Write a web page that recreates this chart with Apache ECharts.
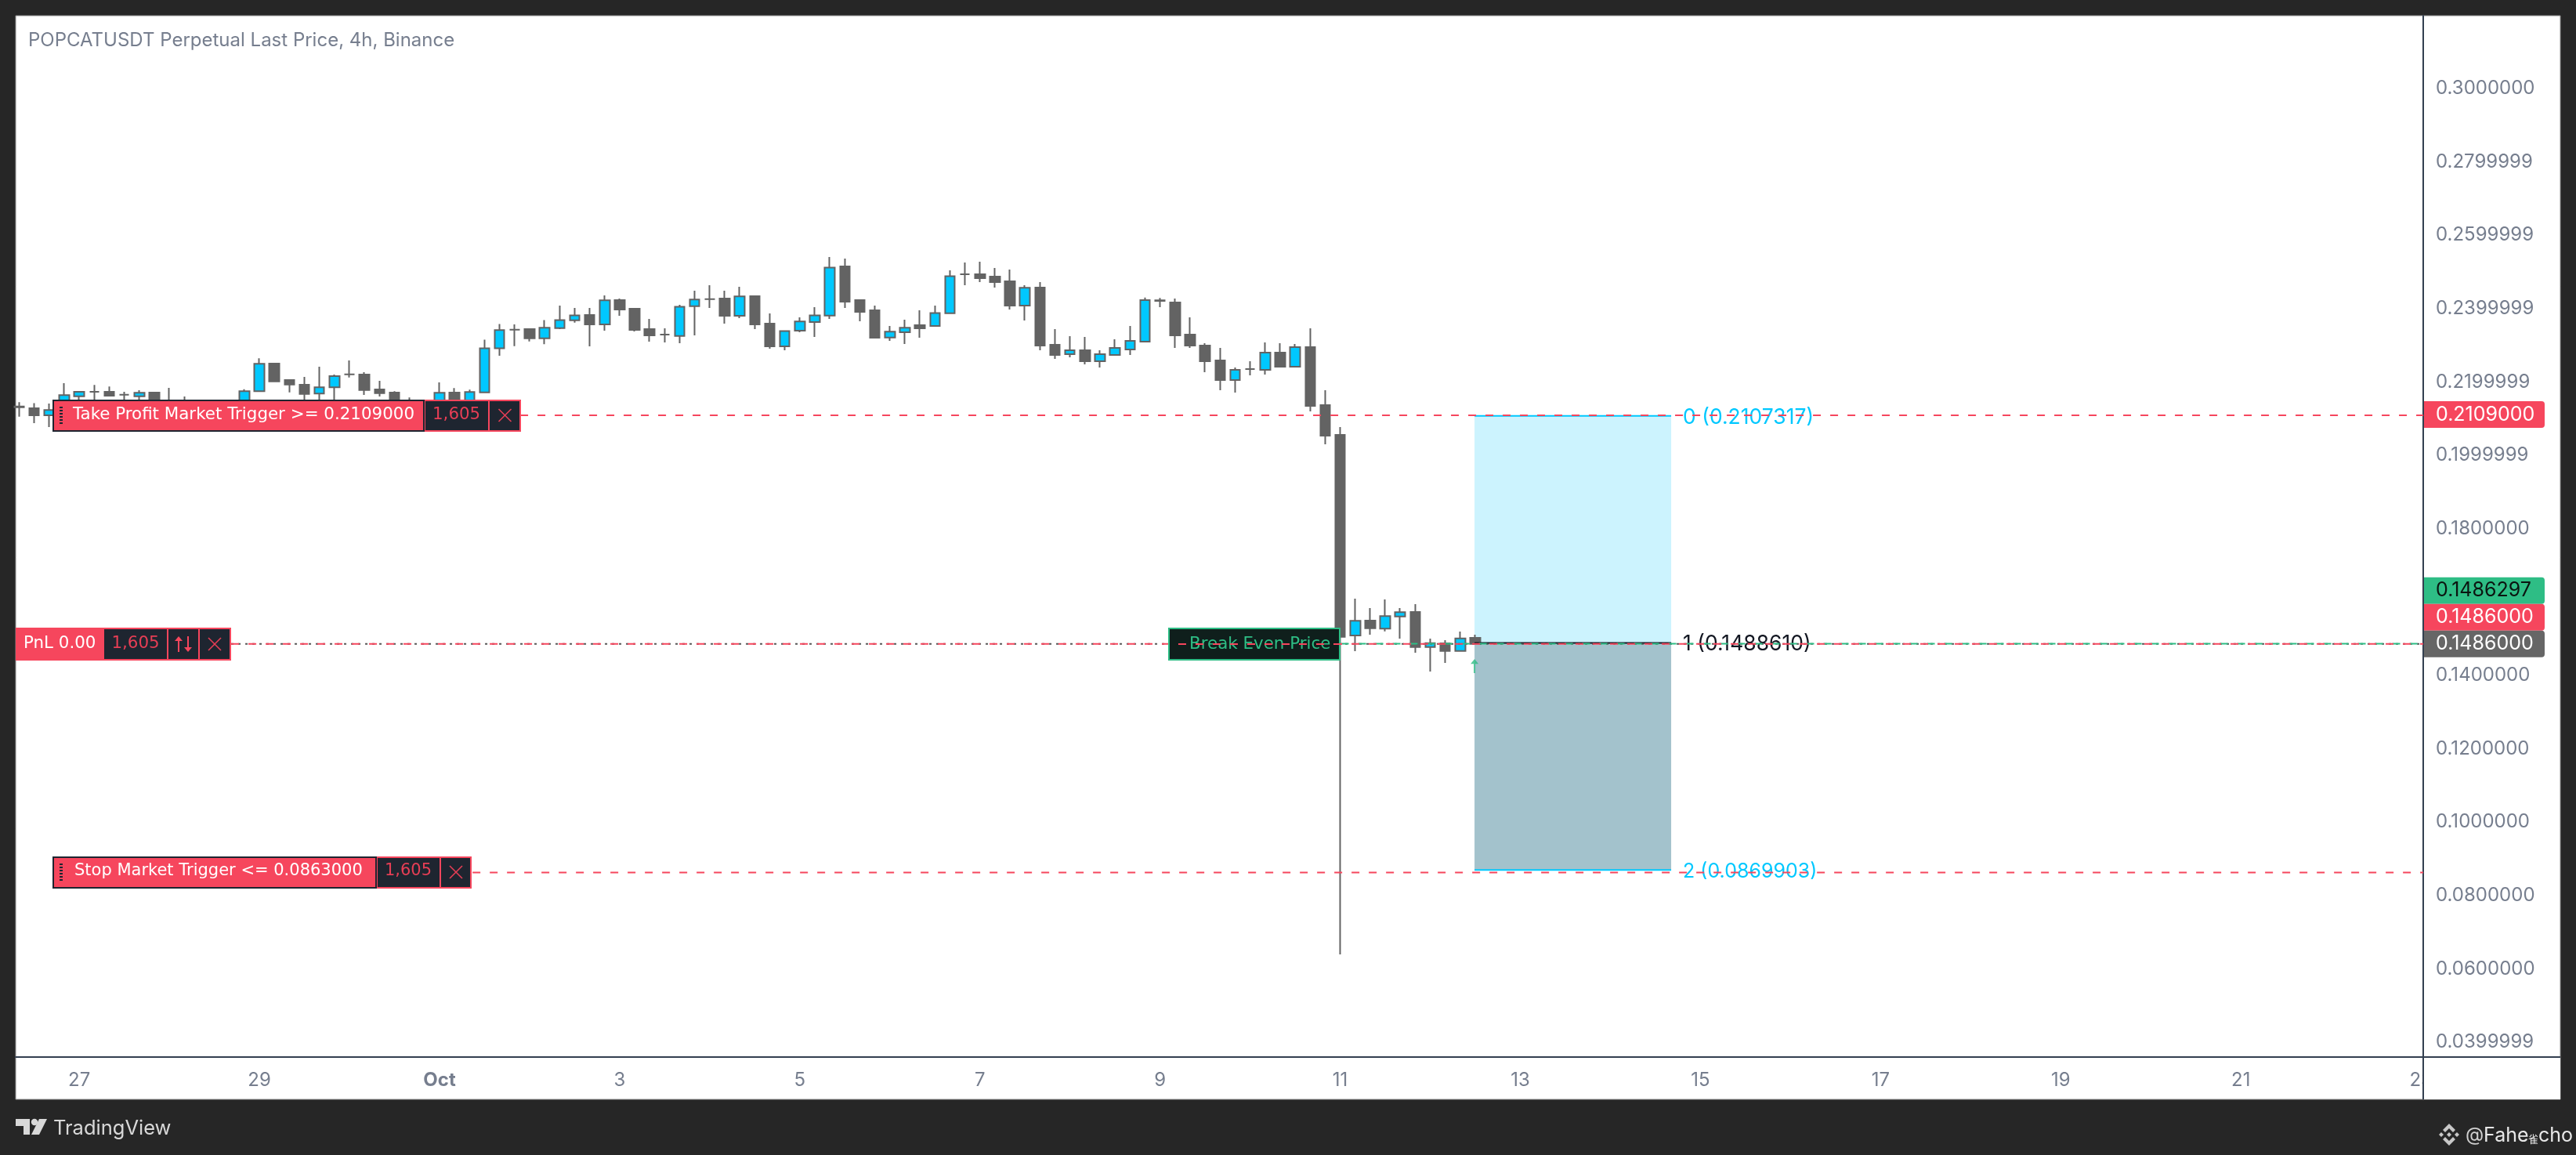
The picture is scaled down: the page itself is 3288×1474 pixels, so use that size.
<!DOCTYPE html>
<html><head><meta charset="utf-8">
<style>html,body{margin:0;padding:0;background:#262626}#c{width:3288px;height:1474px}</style>
<script src="https://cdn.jsdelivr.net/npm/echarts@6/dist/echarts.min.js"></script>
</head><body><div id="c"></div>
<script>
const firstCandle = -28; // candle offset (4h bars) from Oct 1 00:00
const opens = [
.21330,.21282,.21090,.21375,.21610,.21731,.21731,.21652,.21610,.21709,
.21446,.21446,.21380,.21350,.21400,.21375,.21745,.22499,.22051,.21923,
.21681,.21852,.22208,.22200,.21795,.21709,.21410,.21400,.21375,.21709,
.21375,.21716,.22919,.23425,.23439,.23190,.23468,.23681,.23824,.23567,
.24229,.23994,.23439,.23290,.23254,.24066,.24258,.24272,.23802,.24336,
.23589,.22969,.23396,.23631,.23809,.25148,.24229,.23952,.23211,.23354,
.23546,.23525,.23873,.24934,.24934,.24870,.24742,.24080,.24571,.23012,
.22756,.22863,.22564,.22735,.22884,.23098,.24210,.24166,.23290,.22991,
.22585,.22051,.22350,.22329,.22799,.22414,.22948,.21368,.20556,.15089,
.15494,.15274,.15608,.15729,.14775,.14875,.14668,.15024];
const closes = [
.21310,.21090,.21232,.21638,.21731,.21731,.21624,.21652,.21702,.21375,
.21339,.21339,.21340,.21400,.21360,.21745,.22492,.22015,.21930,.21674,
.21852,.22158,.22208,.21780,.21695,.21375,.21339,.21350,.21702,.21375,
.21724,.22919,.23411,.23425,.23190,.23475,.23688,.23816,.23567,.24222,
.23973,.23418,.23268,.23290,.24051,.24244,.24258,.23802,.24329,.23567,
.22969,.23389,.23646,.23816,.25119,.24187,.23909,.23204,.23368,.23475,
.23461,.23880,.24884,.24934,.24827,.24721,.24080,.24564,.22991,.22734,
.22863,.22563,.22756,.22927,.23119,.24230,.24225,.23269,.22991,.22564,
.22051,.22329,.22350,.22799,.22414,.22948,.21346,.20535,.15052,.15487,
.15288,.15615,.15722,.14775,.14882,.14668,.15010,.14861];
const lows = [
.21054,.20876,.20769,.21268,.21446,.21446,.21624,.21446,.21503,.21304,
.21232,.21161,.21232,.21200,.21220,.21304,.21745,.22015,.21716,.21375,
.21375,.21446,.22122,.21645,.21602,.21304,.21268,.21250,.21304,.21304,
.21304,.21695,.22713,.22976,.23105,.23026,.23439,.23617,.22969,.23396,
.23802,.23375,.23097,.23076,.23055,.23268,.24016,.23589,.23738,.23439,
.22905,.22863,.23354,.23226,.23717,.24016,.23653,.23183,.23119,.23033,
.23204,.23525,.23873,.24635,.24721,.24571,.23973,.23674,.22863,.22628,
.22670,.22478,.22393,.22735,.22735,.23098,.24040,.22927,.22927,.22265,
.21774,.21710,.22179,.22201,.22393,.22393,.21197,.20300,.06395,.14661,
.15110,.15202,.15003,.14619,.14106,.14341,.14668,.14861];
const highs = [
.21446,.21424,.21410,.21966,.21752,.21916,.21873,.21731,.21773,.21731,
.21837,.21602,.21481,.21430,.21450,.21802,.22642,.22514,.22072,.22136,
.22414,.22200,.22585,.22265,.22030,.21745,.21574,.21517,.21987,.21830,
.21788,.23154,.23581,.23567,.23439,.23688,.24080,.24016,.24016,.24358,
.24272,.24016,.23717,.23461,.24101,.24486,.24635,.24486,.24592,.24358,
.23866,.23389,.23760,.24037,.25404,.25361,.24229,.24080,.23525,.23695,
.23952,.24080,.25041,.25255,.25276,.25105,.25062,.24635,.24721,.23439,
.23247,.23226,.22863,.23162,.23525,.24300,.24290,.24272,.23760,.23055,
.22927,.22393,.22564,.23076,.23055,.23034,.23461,.21774,.20770,.16092,
.15836,.16071,.15836,.15943,.15003,.14960,.15195,.15110];

const xTickCandles = [-24,-12,0,12,24,36,48,60,72,84,96,108,120,132];
const xTickLabels = ['27','29','Oct','3','5','7','9','11','13','15','17','19','21','23'];
const yTickLabels = ['0.3000000','0.2799999','0.2599999','0.2399999','0.2199999','0.1999999','0.1800000','0.1400000','0.1200000','0.1000000','0.0800000','0.0600000','0.0399999'];

const takeProfit = 0.2109, breakEven = 0.1486, stopLoss = 0.0863, markPrice = 0.1486297;
const fibLevels = [0.2107317, 0.1488610, 0.0869903];
const fibNames = ['0 (0.2107317)', '1 (0.1488610)', '2 (0.0869903)'];
const fibColors = ['#00c8ff', '#131722', '#00c8ff'];
const fibFontSizes = [26.5, 26.5, 25];
const fibFrom = 68.95, fibTo = 82.05;
const xMin = -28.236, xMax = 132.15, yMin = 0.03598, yMax = 0.31983;
const tpLineFrom = 5.38, slLineFrom = 2.2, pnlLineFrom = -13.88, bePriceFrom = 60.05;
const entryArrow = [68.95, 0.14255];

const RED='#f6465d', GREEN='#2ebd85', GREY='#666666', DARK='#1e2530', CYAN='#00c8ff', AXIS='#333f50', TXT='#767e8e';
const UI = 'Inter, "Noto Sans", sans-serif', OF = '"DejaVu Sans", sans-serif';

const candleData = opens.map((o,i)=>[firstCandle+i,o,closes[i],lows[i],highs[i]]);
function hline(name,p,from,color,type,z,w){
  return {name,type:'line',data:[[from,p],[xMax,p]],showSymbol:false,silent:true,z,animation:false,clip:true,
    lineStyle:{color,width:w||2,type}};
}
const chart = echarts.init(document.getElementById('c'),null,{renderer:'canvas',width:3288,height:1474});
const option = {
  animation:false, backgroundColor:'#262626',
  title:{text:'POPCATUSDT Perpetual Last Price, 4h, Binance',left:36,top:40,padding:0,
    textStyle:{color:TXT,fontFamily:UI,fontSize:24,fontWeight:400}},
  grid:{left:20,top:20,right:195,bottom:125,containLabel:false},
  xAxis:{type:'value',min:xMin,max:xMax,splitLine:{show:false},axisTick:{show:false},
    axisLine:{show:true,onZero:false,lineStyle:{color:AXIS,width:2}},
    axisLabel:{customValues:xTickCandles,margin:18,color:TXT,fontFamily:UI,fontSize:24,hideOverlap:false,
      formatter:v=>{const s=xTickLabels[xTickCandles.indexOf(v)];return s==='Oct'?'{b|Oct}':s;},
      rich:{b:{fontWeight:700,color:TXT,fontFamily:UI,fontSize:24}}}},
  yAxis:{type:'value',position:'right',min:yMin,max:yMax,scale:true,splitLine:{show:false},axisTick:{show:false},
    axisLine:{show:true,onZero:false,lineStyle:{color:AXIS,width:2}},
    axisLabel:{customValues:yTickLabels.map(Number),margin:16,color:TXT,fontFamily:UI,fontSize:24,
      formatter:v=>v.toFixed(7)}},
  series:[
    {name:'Position',type:'line',data:[],z:1,silent:true,
      markArea:{silent:true,data:[
        [{xAxis:fibFrom,yAxis:fibLevels[0],itemStyle:{color:'#ccf3fe'}},{xAxis:fibTo,yAxis:fibLevels[1]}],
        [{xAxis:fibFrom,yAxis:fibLevels[1],itemStyle:{color:'#a3c2cc'}},{xAxis:fibTo,yAxis:fibLevels[2]}]
      ]}},
    {name:'POPCATUSDT',type:'candlestick',data:candleData,z:2,barWidth:13,silent:true,clip:true,
      encode:{x:0,y:[1,2,3,4]},
      itemStyle:{color:CYAN,color0:'#636363',borderColor:'#636363',borderColor0:'#636363',borderColorDoji:'#636363',borderWidth:2}},
    ...fibLevels.map((p,i)=>({name:'Fib '+i,type:'line',data:[[fibFrom,p],[fibTo,p]],showSymbol:false,z:3,silent:true,
      lineStyle:{color:fibColors[i],width:2},
      endLabel:{show:true,formatter:fibNames[i],color:fibColors[i],fontFamily:UI,fontSize:fibFontSizes[i],distance:15,offset:[0,2]}})),
    hline('Position dots',breakEven,pnlLineFrom,'#555555',[3,6],4),
    hline('Mark price',markPrice,bePriceFrom,GREEN,[10,12],5),
    hline('Take profit',takeProfit,tpLineFrom,RED,[10,12],6),
    hline('Break even',breakEven,pnlLineFrom,RED,[10,12],6),
    hline('Stop',stopLoss,slLineFrom,RED,[10,12],6),
    {name:'Entry',type:'scatter',data:[entryArrow],z:5,silent:true,symbolSize:[10,18],
      symbol:'path://M5 0 L10 7 L6 7 L6 20 L4 20 L4 7 L0 7 Z',itemStyle:{color:GREEN}}
  ]
};
chart.setOption(option);

const py = p => chart.convertToPixel({yAxisIndex:0},p);
const els = [];
const R=(x,y,w,h,fill,z,extra)=>els.push(Object.assign({type:'rect',z:z||50,silent:true,shape:{x,y,width:w,height:h},style:{fill}},extra||{}));
const B=(x,y,w,h,fill,stroke,z)=>els.push({type:'rect',z:z||50,silent:true,shape:{x:x+1,y:y+1,width:w-2,height:h-2},style:{fill,stroke,lineWidth:2}});
const T=(x,y,text,fill,font,align,z)=>els.push({type:'text',z:z||52,silent:true,x,y,style:{text,fill,font,align:align||'left',verticalAlign:'middle'}});
const L=(x1,y1,x2,y2,stroke,w,z)=>els.push({type:'line',z:z||52,silent:true,shape:{x1,y1,x2,y2},style:{stroke,lineWidth:w||2}});
const P=(pts,fill,z)=>els.push({type:'polygon',z:z||52,silent:true,shape:{points:pts},style:{fill}});

// page panel
R(20,20,3248,1383,'#ffffff',-10,{style:{fill:'#ffffff',stroke:'#8a8a8a',lineWidth:1}});
// price-axis & time-axis panes cover
R(3094,1350,174,53,'#ffffff',40);
L(3093,1349,3093,1403,AXIS,2,41);
L(3093,1349,3268,1349,AXIS,2,41);

function xMark(cx,cy,c){L(cx-8,cy-8,cx+8,cy+8,c,1.6);L(cx+8,cy-8,cx-8,cy+8,c,1.6);}
function dots(x,cy){for(let i=0;i<6;i++)R(x-2,cy-11+i*4,4,2,DARK,52);}
const OFONT='21.4px '+OF, SFONT='21px '+OF;
function order(price,x1,x2,x3,x4,tx,label,qc,font){
  const c=Math.round(py(price)), t=c-20, h=41;
  B(x2-1,t,x4-x2+1,h,DARK,RED);
  L(x3,t,x3,t+h,RED,2,51);
  B(x1,t,x2-x1,h,RED,DARK,51);
  dots(x1+11,c);
  T(tx,c-1,label,'#ffffff',font);
  T(qc,c-1,'1,605','#e63e55',font,'center');
  xMark((x3+x4)/2,c,'#e63e55');
}
order(takeProfit,67,542,624,665,93,'Take Profit Market Trigger >= 0.2109000',582.6,OFONT);
order(stopLoss,67,481,562,602,95,'Stop Market Trigger <= 0.0863000',521,SFONT);
// PnL
{const c=Math.round(py(breakEven)), t=c-21, h=42;
 R(20,t,275,h,RED,50);
 R(133,t+2,80,h-4,DARK,51);R(215,t+2,38,h-4,DARK,51);R(255,t+2,38,h-4,DARK,51);
 T(30,c-1,'PnL 0.00','#ffffff',OFONT);
 T(173,c-1,'1,605','#e63e55',OFONT,'center');
 L(228,c-8,228,c+10,RED,2);P([[223,c-4],[233,c-4],[228,c-10]],RED);
 L(240,c-10,240,c+8,RED,2);P([[235,c+4],[245,c+4],[240,c+10]],RED);
 xMark(274,c,'#e63e55');
}
// Break even tag
{const c=Math.round(py(breakEven)), t=c-21;
 B(1491,t,220,42,'#0f1f1c',GREEN,50);
 T(1518,c,'Break Even Price',GREEN,OFONT);
 // dashes over the tag
 for(let x=1504;x<1711;x+=22) R(x,c-1,10,2,RED,53);
}
// right price tags
function tag(p,off,text,bg,fg){
  const c=py(p)+off;
  els.push({type:'rect',z:55,silent:true,shape:{x:3094,y:c-17,width:154,height:34,r:[0,4,4,0]},style:{fill:bg}});
  T(3109,c,text,fg,'25px '+UI,'left',56);
}
tag(takeProfit,-1,'0.2109000',RED,'#ffffff');
tag(breakEven,-68,'0.1486297',GREEN,'#0b1410');
tag(breakEven,-34,'0.1486000',RED,'#ffffff');
tag(breakEven,0,'0.1486000',GREY,'#ffffff');
// footer
const LG='#d8d8d8';
P([[20,1428],[38,1428],[38,1448],[30,1448],[30,1437],[20,1437]],LG);
els.push({type:'circle',z:52,silent:true,shape:{cx:44,cy:1432,r:4.2},style:{fill:LG}});
P([[50,1428],[60,1428],[50,1448],[40,1448]],LG);
T(68,1440,'TradingView',LG,'25.5px '+UI);
const BC='#c8c8c8',bx=3126,by=1448;
P([[bx,by-14],[bx+8,by-6],[bx+5,by-3],[bx,by-8],[bx-5,by-3],[bx-8,by-6]],BC);
P([[bx,by+14],[bx+8,by+6],[bx+5,by+3],[bx,by+8],[bx-5,by+3],[bx-8,by+6]],BC);
P([[bx,by-3],[bx+3,by],[bx,by+3],[bx-3,by]],BC);
P([[bx-10,by-3],[bx-7,by],[bx-10,by+3],[bx-13,by]],BC);
P([[bx+10,by-3],[bx+13,by],[bx+10,by+3],[bx+7,by]],BC);
T(3147,1449,'@','#d0d0d0','24px '+UI);
T(3170,1449,'Fahe','#e8e8e8','25px '+UI);
T(3227,1453,'雀','#e8e8e8','13px "Noto Sans CJK SC"');
T(3240,1449,'cho','#e8e8e8','25px '+UI);
chart.setOption({graphic:{elements:els}});
</script></body></html>
